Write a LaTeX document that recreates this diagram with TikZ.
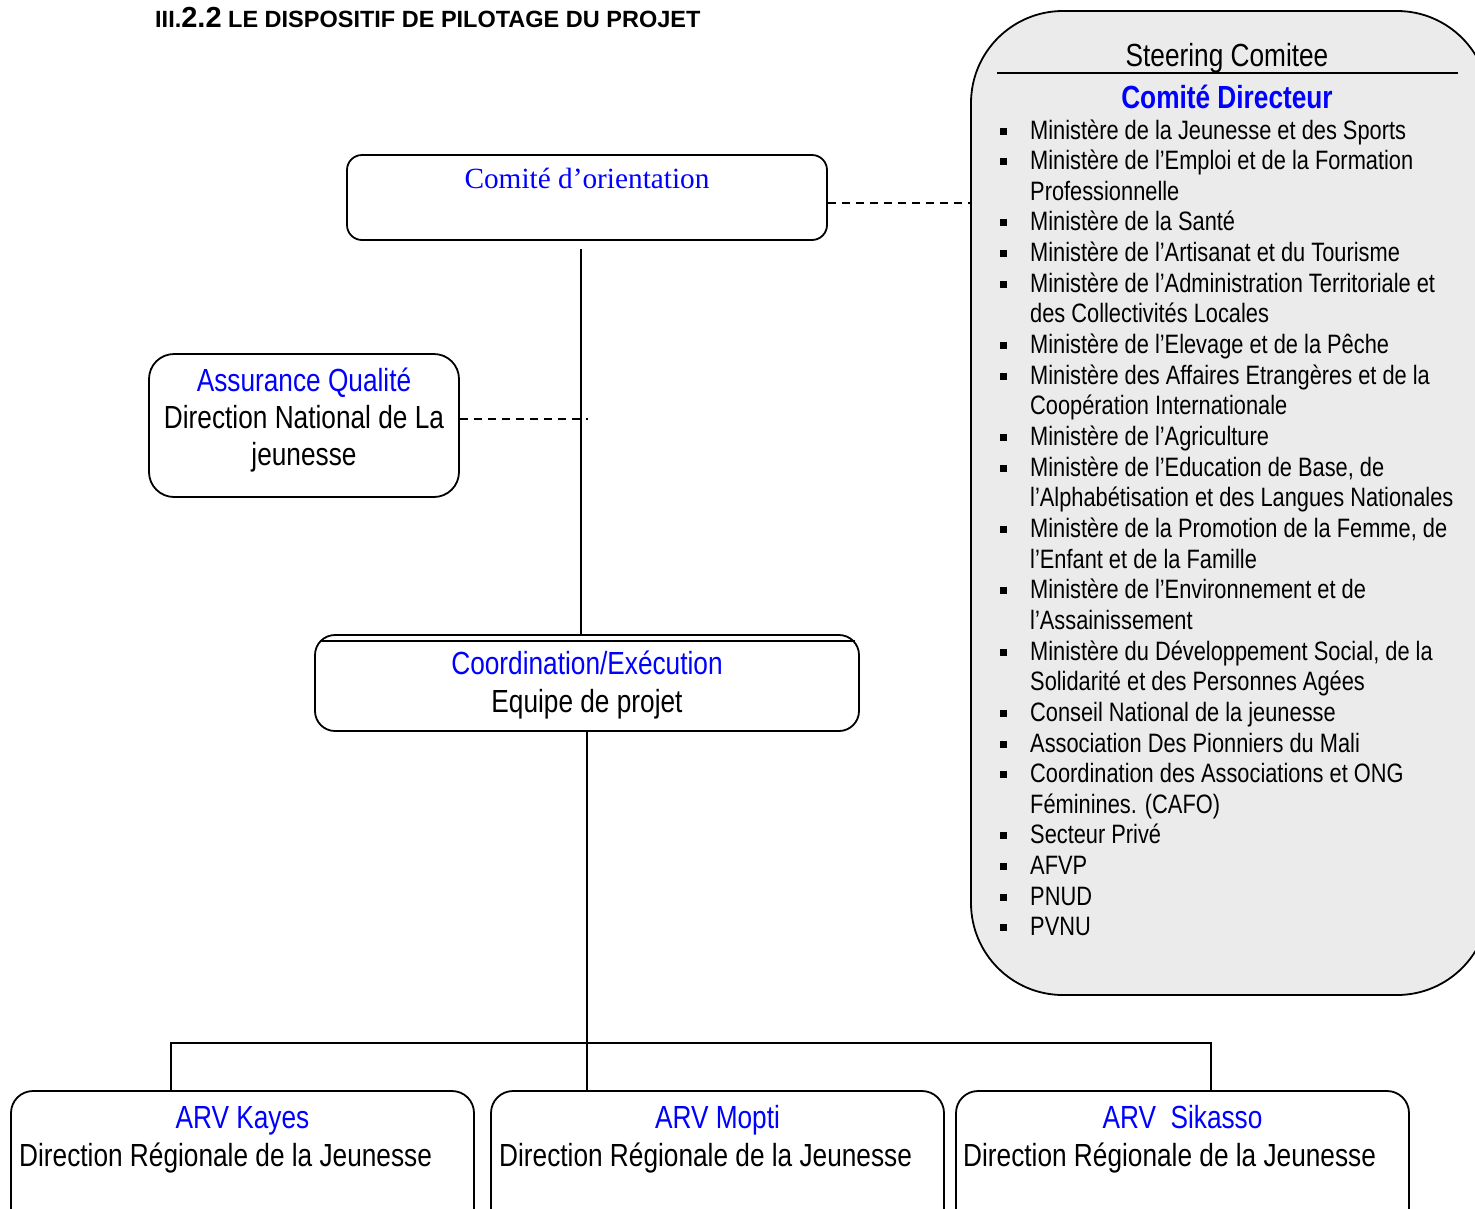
\documentclass[tikz,border=0pt]{standalone}
\usepackage{fontspec}
\setmainfont{Liberation Sans}[FakeStretch=0.82]
\newfontfamily\timesf{Liberation Serif}
\newfontfamily\arialf{Liberation Sans}
\definecolor{steergray}{HTML}{EBEBEB}
\definecolor{txtblue}{RGB}{0,0,255}
\tikzset{
  box/.style={draw, line width=1.8pt, inner sep=0pt},
  conn/.style={line width=1.8pt},
  dashconn/.style={line width=1.6pt, dash pattern=on 8pt off 6pt},
  lbl/.style={anchor=base, inner sep=0pt, font=\fontsize{32}{36}\selectfont},
  bluelbl/.style={lbl, text=txtblue},
  leftlbl/.style={anchor=base west, inner sep=0pt, font=\fontsize{32}{36}\selectfont},
  listtext/.style={anchor=base west, inner sep=0pt, font=\fontsize{26.6}{30}\selectfont},
  bulletsq/.style={fill=black, inner sep=0pt, minimum size=7pt},
}
\begin{document}
\begin{tikzpicture}[x=1pt,y=-1pt]
\useasboundingbox (0,0) rectangle (1475,1208);
\clip (0,0) rectangle (1475,1208);

% title
\node[anchor=base west, inner sep=0pt, font=\arialf\bfseries\fontsize{23.5}{26}\selectfont] (title) at (155,27)
  {III.{\fontsize{29}{30}\selectfont 2.2} LE DISPOSITIF DE PILOTAGE DU PROJET};

% steering committee
\node[box, rounded corners=92pt, fill=steergray, minimum width=518pt, minimum height=984pt] (steer) at (1230,503) {};
\node[lbl] (steertitle) at (1227,66) {Steering Comitee};
\coordinate (ulL) at (997,73);
\coordinate (ulR) at (1458,73);
\draw[conn] (ulL) -- (ulR);
\node[bluelbl, font=\bfseries\fontsize{32}{36}\selectfont] (cd) at (1227,108) {Comité Directeur};

\foreach \b/\t [count=\i] in {
1/{Ministère de la Jeunesse et des Sports},
1/{Ministère de l’Emploi et de la Formation},
0/{Professionnelle},
1/{Ministère de la Santé},
1/{Ministère de l’Artisanat et du Tourisme},
1/{Ministère de l’Administration Territoriale et},
0/{des Collectivités Locales},
1/{Ministère de l’Elevage et de la Pêche},
1/{Ministère des Affaires Etrangères et de la},
0/{Coopération Internationale},
1/{Ministère de l’Agriculture},
1/{Ministère de l’Education de Base, de},
0/{l’Alphabétisation et des Langues Nationales},
1/{Ministère de la Promotion de la Femme, de},
0/{l’Enfant et de la Famille},
1/{Ministère de l’Environnement et de},
0/{l’Assainissement},
1/{Ministère du Développement Social, de la},
0/{Solidarité et des Personnes Agées},
1/{Conseil National de la jeunesse},
1/{Association Des Pionniers du Mali},
1/{Coordination des Associations et ONG},
0/{Féminines. (CAFO)},
1/{Secteur Privé},
1/{AFVP},
1/{PNUD},
1/{PVNU}}
{
  \node[listtext] (L\i) at (1030,{139+30.65*(\i-1)}) {\t};
  \ifnum\b=1 \node[bulletsq] (B\i) at (1003.5,{131+30.65*(\i-1)}) {};\fi
}

% comite d'orientation
\node[box, rounded corners=15pt, minimum width=480pt, minimum height=85pt] (orient) at (587,197.5) {};
\node[anchor=base, inner sep=0pt, text=txtblue, font=\timesf\fontsize{29.3}{32}\selectfont] (orienttxt) at (587,188.5) {Comité d’orientation};

% assurance qualite
\node[box, rounded corners=25pt, minimum width=310pt, minimum height=143pt] (aq) at (304,425.5) {};
\node[bluelbl] (aq1) at (304,391) {Assurance Qualité};
\node[lbl] (aq2) at (304,428) {Direction National de La};
\node[lbl] (aq3) at (304,465) {jeunesse};

% coordination
\node[box, rounded corners=20pt, minimum width=544pt, minimum height=96pt] (coord) at (587,683) {};
\draw[line width=1.6pt] ([xshift=6pt,yshift=-7pt]coord.north west) -- ([xshift=-5pt,yshift=-7pt]coord.north east);
\node[bluelbl] (co1) at (587,674) {Coordination/Exécution};
\node[lbl] (co2) at (587,712) {Equipe de projet};

% bottom boxes
\node[box, rounded corners=22pt, minimum width=463pt, minimum height=150pt] (kayes) at (242.5,1166) {};
\node[box, rounded corners=22pt, minimum width=453pt, minimum height=150pt] (mopti) at (717.5,1166) {};
\node[box, rounded corners=22pt, minimum width=453pt, minimum height=150pt] (sik) at (1182.5,1166) {};
\node[bluelbl] (k1) at (242.5,1128) {ARV Kayes};
\node[leftlbl] (k2) at (19,1166) {Direction Régionale de la Jeunesse};
\node[bluelbl] (m1) at (717.5,1128) {ARV Mopti};
\node[leftlbl] (m2) at (499,1166) {Direction Régionale de la Jeunesse};
\node[bluelbl] (s1) at (1182.5,1128) {ARV\ \ Sikasso};
\node[leftlbl] (s2) at (963,1166) {Direction Régionale de la Jeunesse};

% connectors
\draw[dashconn] ([yshift=-5.5pt]orient.east) -- ([yshift=-5.5pt]orient.east -| steer.west);
\coordinate (vtop) at (581,249);
\draw[conn] (vtop) -- (vtop |- coord.north);
\coordinate (aqend) at (588,419);
\draw[dashconn] (aq.east |- aqend) -- (aqend);
\draw[conn] (coord.south) -- (coord.south |- mopti.north);
\coordinate (hl) at (171,1043);
\coordinate (hr) at (1211,1043);
\draw[conn] (hl |- kayes.north) -- (hl) -- (hr) -- (hr |- sik.north);
\end{tikzpicture}
\end{document}
